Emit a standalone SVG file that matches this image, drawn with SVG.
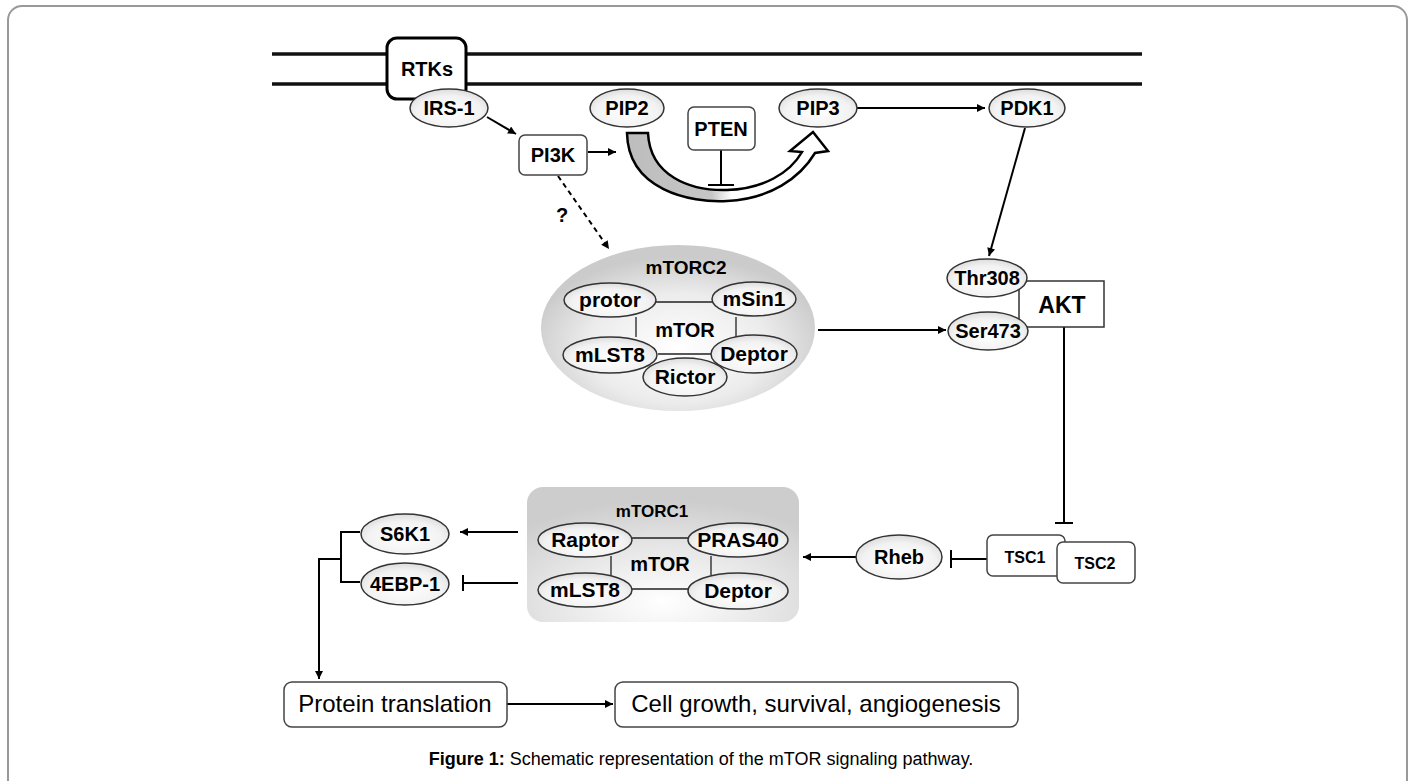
<svg xmlns="http://www.w3.org/2000/svg" width="1413" height="781" viewBox="0 0 1413 781">
<defs>
<style>
text{font-family:"Liberation Sans",Arial,Helvetica,sans-serif;fill:#000;text-anchor:middle}
.b{font-weight:bold;font-size:20px}
.bi{font-weight:bold;font-size:21px}
.n{font-size:24px}
.ell{fill:url(#eg);stroke:#333;stroke-width:1.5}
.box{fill:#fff;stroke:#444;stroke-width:1.5}
.ln{fill:none;stroke:#000;stroke-width:2}
.thin{fill:none;stroke:#222;stroke-width:1.3}
</style>
<radialGradient id="eg" cx="50%" cy="60%" r="60%">
<stop offset="0" stop-color="#ffffff"/><stop offset="0.7" stop-color="#f2f2f2"/><stop offset="1" stop-color="#dcdcdc"/>
</radialGradient>
<radialGradient id="c2" cx="50%" cy="62%" r="55%">
<stop offset="0" stop-color="#ffffff"/><stop offset="0.6" stop-color="#ececec"/><stop offset="1" stop-color="#cbcbcb"/>
</radialGradient>
<radialGradient id="c1" cx="50%" cy="85%" r="75%">
<stop offset="0" stop-color="#ffffff"/><stop offset="0.55" stop-color="#e6e6e6"/><stop offset="1" stop-color="#cdcdcd"/>
</radialGradient>
<linearGradient id="arc" x1="627" y1="0" x2="828" y2="0" gradientUnits="userSpaceOnUse">
<stop offset="0" stop-color="#bdbdbd"/><stop offset="0.42" stop-color="#c6c6c6"/><stop offset="0.52" stop-color="#ffffff"/><stop offset="1" stop-color="#ffffff"/>
</linearGradient>
<marker id="ah" viewBox="0 0 10 10" refX="10" refY="5" markerWidth="9" markerHeight="8" markerUnits="userSpaceOnUse" orient="auto">
<path d="M0,0 L10,5 L0,10 Z" fill="#000"/>
</marker>
</defs>

<rect x="8" y="6" width="1399" height="800" rx="14" fill="#fff" stroke="#999" stroke-width="2"/>

<g id="membrane">
<line x1="272" y1="54" x2="1142" y2="54" stroke="#111" stroke-width="3.5"/>
<line x1="272" y1="84" x2="1142" y2="84" stroke="#111" stroke-width="3.5"/>
</g>

<g id="connectors">
<line class="ln" x1="487" y1="117" x2="516" y2="134" marker-end="url(#ah)"/>
<line class="ln" x1="588" y1="152" x2="616" y2="152" marker-end="url(#ah)"/>
<path class="ln" d="M721,150 V185 M708,185 H734"/>
<line class="ln" x1="857" y1="108" x2="985" y2="108" marker-end="url(#ah)"/>
<line class="ln" x1="1025" y1="128" x2="989" y2="256" marker-end="url(#ah)"/>
<line class="ln" x1="558" y1="176" x2="609" y2="249" stroke-dasharray="5,4" marker-end="url(#ah)"/>
<line class="ln" x1="818" y1="330" x2="946" y2="330" marker-end="url(#ah)"/>
<path class="ln" d="M1064,327 V523 M1055,523 H1073"/>
<path class="ln" d="M987,559 H951 M951,550 V568"/>
<line class="ln" x1="857" y1="557" x2="803" y2="557" marker-end="url(#ah)"/>
<line class="ln" x1="518" y1="532" x2="460" y2="532" marker-end="url(#ah)"/>
<path class="ln" d="M518,583 H463 M463,575 V591"/>
<path class="ln" d="M360,532 H341 V582 H360"/>
<path class="ln" d="M341,559 H319 V679" marker-end="url(#ah)"/>
<line class="ln" x1="507" y1="704" x2="613" y2="704" marker-end="url(#ah)"/>
</g>

<g id="conversion-arrow">
<path d="M627,133 C628,190 690,203 727,201 C770,199 800,178 815,153 L828,151 L813,132 L790,151 L802,152 C790,173 763,189 727,190 C690,191 650,176 648,133 Z" fill="url(#arc)" stroke="#000" stroke-width="2.5" stroke-linejoin="miter"/>
</g>

<g id="RTKs"><rect x="387" y="38" width="79" height="61" rx="10" fill="#fff" stroke="#000" stroke-width="3"/><text class="b" x="427" y="76">RTKs</text></g>
<g id="IRS-1"><ellipse class="ell" cx="449" cy="108" rx="39" ry="19"/><text class="b" x="449" y="115">IRS-1</text></g>
<g id="PI3K"><rect class="box" x="519" y="135" width="68" height="40" rx="6"/><text class="b" x="553" y="162">PI3K</text></g>
<g id="PIP2"><ellipse class="ell" cx="627" cy="108" rx="37" ry="19"/><text class="b" x="627" y="115">PIP2</text></g>
<g id="PTEN"><rect class="box" x="688" y="107" width="67" height="43" rx="6"/><text class="b" x="721" y="136">PTEN</text></g>
<g id="PIP3"><ellipse class="ell" cx="818" cy="108" rx="39" ry="19"/><text class="b" x="818" y="115">PIP3</text></g>
<g id="PDK1"><ellipse class="ell" cx="1027" cy="108" rx="38" ry="19"/><text class="b" x="1027" y="115">PDK1</text></g>
<g id="question"><text class="b" x="562" y="222">?</text></g>

<g id="mTORC2">
<ellipse cx="678" cy="328" rx="137" ry="83" fill="url(#c2)"/>
<text style="font-weight:bold;font-size:19px" x="686" y="274">mTORC2</text>
<path class="thin" d="M656,302 H712 M636,317 V337 M736,317 V337 M658,354 H712"/>
<text class="bi" x="685" y="337" style="font-size:20px">mTOR</text>
<ellipse class="ell" cx="610" cy="300" rx="46" ry="17"/><text class="bi" x="610" y="307">protor</text>
<ellipse class="ell" cx="754" cy="299" rx="42" ry="17"/><text class="bi" x="754" y="306">mSin1</text>
<ellipse class="ell" cx="610" cy="355" rx="47" ry="18"/><text class="bi" x="610" y="362">mLST8</text>
<ellipse class="ell" cx="754" cy="354" rx="43" ry="19"/><text class="bi" x="754" y="361">Deptor</text>
<ellipse class="ell" cx="685" cy="377" rx="42" ry="19"/><text class="bi" x="685" y="384">Rictor</text>
</g>

<g id="AKT">
<rect x="1019" y="281" width="85" height="46" fill="#fff" stroke="#333" stroke-width="1.5"/>
<text style="font-weight:bold;font-size:23px" x="1062" y="313">AKT</text>
</g>
<g id="Thr308"><ellipse class="ell" cx="987" cy="278" rx="40" ry="19"/><text class="b" x="987" y="285">Thr308</text></g>
<g id="Ser473"><ellipse class="ell" cx="988" cy="331" rx="40" ry="19"/><text class="b" x="988" y="338">Ser473</text></g>

<g id="TSC1"><rect class="box" x="987" y="535" width="78" height="41" rx="6"/><text style="font-weight:bold;font-size:16px" x="1025" y="563">TSC1</text></g>
<g id="TSC2"><rect class="box" x="1057" y="542" width="78" height="41" rx="6"/><text style="font-weight:bold;font-size:16px" x="1095" y="569">TSC2</text></g>
<g id="Rheb"><ellipse class="ell" cx="899" cy="557" rx="43" ry="22"/><text class="b" x="899" y="564">Rheb</text></g>

<g id="mTORC1">
<rect x="527" y="487" width="272" height="135" rx="16" fill="url(#c1)"/>
<text style="font-weight:bold;font-size:17px" x="652" y="517">mTORC1</text>
<path class="thin" d="M632,538 H688 M611,556 V575 M711,556 V575 M632,589 H688"/>
<text class="bi" x="660" y="571" style="font-size:20px">mTOR</text>
<ellipse class="ell" cx="585" cy="540" rx="47" ry="17"/><text class="bi" x="585" y="547">Raptor</text>
<ellipse class="ell" cx="738" cy="540" rx="50" ry="17"/><text class="bi" x="738" y="547">PRAS40</text>
<ellipse class="ell" cx="585" cy="590" rx="47" ry="17"/><text class="bi" x="585" y="597">mLST8</text>
<ellipse class="ell" cx="738" cy="591" rx="50" ry="18"/><text class="bi" x="738" y="598">Deptor</text>
</g>

<g id="S6K1"><ellipse class="ell" cx="405" cy="534" rx="44" ry="20"/><text class="b" x="405" y="541">S6K1</text></g>
<g id="4EBP-1"><ellipse class="ell" cx="405" cy="584" rx="44" ry="21"/><text class="b" x="405" y="591">4EBP-1</text></g>

<g id="ProteinTranslation"><rect class="box" x="284" y="682" width="223" height="45" rx="8"/><text class="n" x="395" y="712">Protein translation</text></g>
<g id="CellGrowth"><rect class="box" x="615" y="682" width="403" height="45" rx="8"/><text class="n" x="816" y="712">Cell growth, survival, angiogenesis</text></g>

<g id="caption"><text x="701" y="765" style="font-size:18px"><tspan font-weight="bold">Figure 1:</tspan> Schematic representation of the mTOR signaling pathway.</text></g>
</svg>
